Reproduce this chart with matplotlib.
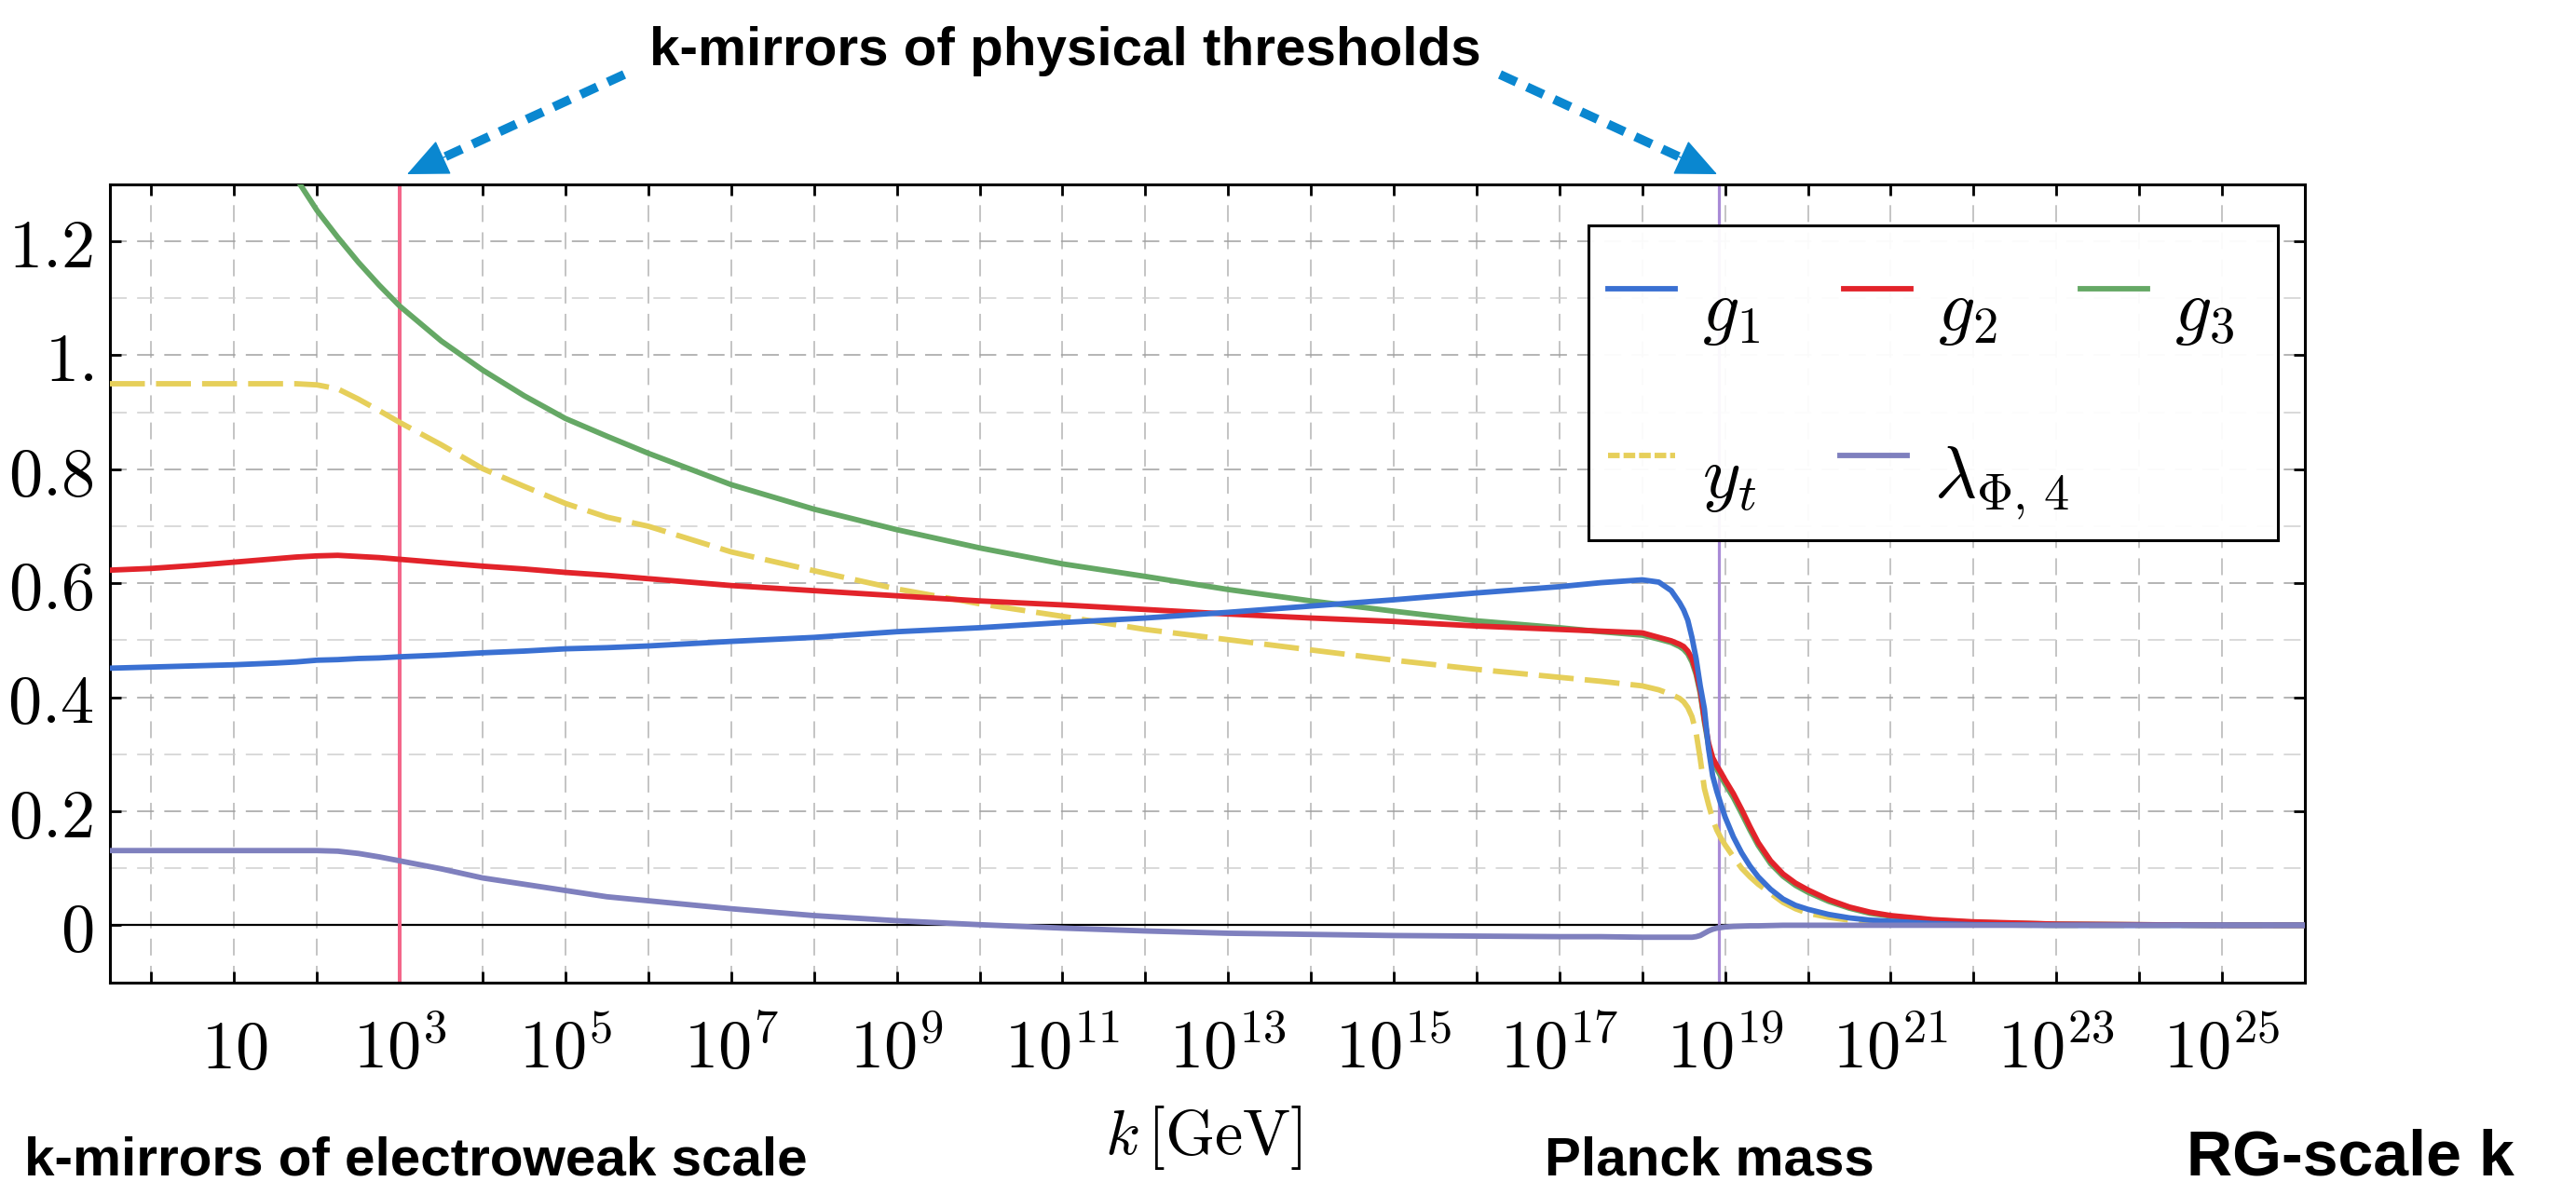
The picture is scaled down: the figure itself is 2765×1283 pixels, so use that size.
import numpy as np
import matplotlib
matplotlib.use("Agg")
import matplotlib.pyplot as plt
from matplotlib.lines import Line2D
from matplotlib.patches import FancyArrowPatch, ArrowStyle, Rectangle
from matplotlib.ticker import FixedLocator, NullFormatter

plt.rcParams['mathtext.fontset'] = 'cm'
plt.rcParams['font.family'] = ['DejaVu Serif']
plt.rcParams['lines.scale_dashes'] = False

# RG scale k, as log10(k / GeV)
log_k = [-0.5, 0, 0.5, 1, 1.5, 1.75, 2, 2.25, 2.5, 2.75, 3, 3.5, 4, 4.5, 5, 5.5,
         6, 7, 8, 9, 10, 11, 12, 13, 14, 15, 16, 17, 17.5, 18, 18.2, 18.35,
         18.45, 18.5, 18.55, 18.6, 18.65, 18.7, 18.75, 18.8, 18.85, 18.9, 18.95,
         19.0, 19.1, 19.2, 19.3, 19.4, 19.55, 19.7, 19.85, 20, 20.25, 20.5,
         20.75, 21, 21.5, 22, 23, 24, 25, 26]

g1 = [0.451, 0.453, 0.455, 0.457, 0.460, 0.462, 0.465, 0.466, 0.468, 0.469, 0.471,
      0.474, 0.478, 0.481, 0.485, 0.487, 0.490, 0.498, 0.505, 0.515, 0.522, 0.531,
      0.539, 0.549, 0.560, 0.571, 0.583, 0.594, 0.601, 0.606, 0.602, 0.587,
      0.566, 0.553, 0.535, 0.505, 0.468, 0.420, 0.380, 0.310, 0.262, 0.235, 0.212,
      0.190, 0.155, 0.127, 0.104, 0.085, 0.063, 0.046, 0.035, 0.028, 0.019, 0.013,
      0.009, 0.007, 0.003, 0.001, 0.0, 0.0, 0.0, 0.0]

g2 = [0.623, 0.626, 0.631, 0.637, 0.643, 0.646, 0.648, 0.649, 0.647, 0.645, 0.642,
      0.636, 0.630, 0.625, 0.619, 0.614, 0.608, 0.596, 0.587, 0.578, 0.569, 0.562,
      0.554, 0.546, 0.539, 0.533, 0.525, 0.519, 0.516, 0.513, 0.505, 0.499,
      0.493, 0.489, 0.481, 0.468, 0.445, 0.412, 0.362, 0.320, 0.294, 0.280, 0.268,
      0.255, 0.231, 0.203, 0.173, 0.145, 0.113, 0.090, 0.074, 0.062, 0.045, 0.032,
      0.023, 0.017, 0.010, 0.006, 0.002, 0.001, 0.0, 0.0]

g3 = [np.nan, np.nan, np.nan, np.nan, 1.37, 1.31, 1.254, 1.207, 1.163, 1.123, 1.086,
      1.025, 0.974, 0.929, 0.889, 0.858, 0.828, 0.773, 0.730, 0.694, 0.662, 0.634,
      0.612, 0.589, 0.569, 0.551, 0.534, 0.522, 0.515, 0.509, 0.502, 0.496,
      0.489, 0.484, 0.476, 0.462, 0.440, 0.407, 0.357, 0.315, 0.289, 0.274, 0.261,
      0.248, 0.224, 0.196, 0.167, 0.140, 0.108, 0.086, 0.070, 0.058, 0.042, 0.030,
      0.021, 0.016, 0.009, 0.005, 0.002, 0.001, 0.0, 0.0]

y_t = [0.950, 0.950, 0.950, 0.950, 0.950, 0.950, 0.948, 0.941, 0.923, 0.903, 0.882,
       0.843, 0.801, 0.770, 0.740, 0.716, 0.700, 0.655, 0.622, 0.590, 0.564, 0.542,
       0.519, 0.501, 0.483, 0.465, 0.449, 0.435, 0.428, 0.420, 0.413, 0.405,
       0.398, 0.392, 0.382, 0.366, 0.338, 0.292, 0.240, 0.212, 0.186, 0.167, 0.153,
       0.141, 0.120, 0.100, 0.085, 0.072, 0.056, 0.040, 0.029, 0.021, 0.014, 0.009,
       0.007, 0.005, 0.002, 0.001, 0.0, 0.0, 0.0, 0.0]

lam4 = [0.131, 0.131, 0.131, 0.131, 0.131, 0.131, 0.131, 0.130, 0.126, 0.120, 0.113,
        0.099, 0.083, 0.072, 0.061, 0.050, 0.043, 0.029, 0.017, 0.008, 0.001, -0.005,
        -0.010, -0.014, -0.016, -0.018, -0.019, -0.020, -0.020, -0.021, -0.021, -0.021,
        -0.021, -0.021, -0.021, -0.021, -0.020, -0.018, -0.014, -0.010, -0.007, -0.005, -0.004,
        -0.003, -0.002, -0.0015, -0.001, -0.001, -0.0005, 0.0, 0.0, 0.0, 0.0, 0.0,
        0.0, 0.0, 0.0, 0.0, 0.0, 0.0, 0.0, 0.0]

# threshold scales (log10 k)
log_k_ew = 3.0
log_k_planck = 18.93

x_ticks_major = list(range(1, 26, 2))
x_ticks_minor = list(range(0, 27, 2))
y_ticks = [0, 0.2, 0.4, 0.6, 0.8, 1.0, 1.2]
y_tick_labels = ["$0$", "$0.2$", "$0.4$", "$0.6$", "$0.8$", "$1.$", "$1.2$"]

C_G1 = '#3a70d2'
C_G2 = '#e2232a'
C_G3 = '#65a865'
C_YT = '#e6cf5a'
C_LAM = '#7f80be'

W, H = 2765, 1283
fig = plt.figure(figsize=(W / 100, H / 100), dpi=100)
ax_top, ax_bot, ax_l, ax_r = 197.8, 1054.6, 118, 2474
ax = fig.add_axes([ax_l / W, 1 - ax_bot / H, (ax_r - ax_l) / W, (ax_bot - ax_top) / H])


def ax_frac(px, py):
    """figure pixel position -> axes fraction"""
    return (px - ax_l) / (ax_r - ax_l), (ax_bot - py) / (ax_bot - ax_top)


k = 10.0 ** np.array(log_k)
lw = 4.2
l_yt, = ax.plot(k, y_t, color=C_YT, lw=lw, dashes=(27, 8.6), zorder=3)
l_g3, = ax.plot(k, g3, color=C_G3, lw=lw, zorder=4)
l_g2, = ax.plot(k, g2, color=C_G2, lw=lw, zorder=5)
l_g1, = ax.plot(k, g1, color=C_G1, lw=lw, zorder=6)
l_lam, = ax.plot(k, lam4, color=C_LAM, lw=lw, zorder=7)

ax.axhline(0, color='black', lw=1.6, zorder=2)
ax.axvline(10.0 ** log_k_ew, color='#f4678a', lw=2.9, zorder=2.5)
ax.axvline(10.0 ** log_k_planck, color='#a98bd6', lw=2.3, zorder=2.5)

ax.set_xscale('log')
ax.set_xlim(10.0 ** -0.5, 10.0 ** 26)
ax.set_ylim(-0.1, 1.3)

ax.set_xticks([10.0 ** e for e in x_ticks_major],
              ["$10$" if e == 1 else "$10^{%d}$" % e for e in x_ticks_major])
ax.xaxis.set_minor_locator(FixedLocator([10.0 ** e for e in x_ticks_minor]))
ax.xaxis.set_minor_formatter(NullFormatter())
ax.set_yticks(y_ticks, y_tick_labels)
ax.yaxis.set_minor_locator(FixedLocator(np.arange(-0.1, 1.31, 0.1)))

ax.tick_params(axis='both', which='both', direction='in', top=True, right=True,
               length=8.5, width=2, labelsize=52)
ax.tick_params(axis='y', which='minor', length=0)
ax.tick_params(axis='x', pad=66.5)
ax.tick_params(axis='y', pad=13)
plt.setp(ax.get_xticklabels(), va='baseline')

grid_dash = (0, (13, 8))
ax.grid(True, axis='x', which='both', color='#b4b4b4', lw=1.1, linestyle=grid_dash, zorder=1)
ax.grid(True, axis='y', which='major', color='#a0a0a0', lw=1.1, linestyle=grid_dash, zorder=1)
ax.grid(True, axis='y', which='minor', color='#cfcfcf', lw=1.1, linestyle=grid_dash, zorder=1)
ax.set_axisbelow(True)

for sp in ax.spines.values():
    sp.set_linewidth(2.2)

ax.set_xlabel(r"$k\,[\mathrm{GeV}]$", fontsize=49)
ax.xaxis.set_label_coords(*ax_frac(1292, 1185))

# legend box shared by the two legend rows
leg_l, leg_r, leg_t, leg_b = 1705, 2445, 241.7, 580
x0f, y0f = ax_frac(leg_l, leg_b)
x1f, y1f = ax_frac(leg_r, leg_t)
frame = Rectangle((x0f, y0f), x1f - x0f, y1f - y0f, transform=ax.transAxes,
                  facecolor=(1, 1, 1, 0.95), edgecolor='black', lw=2.2, zorder=9)
ax.add_artist(frame)

yt_handle = Line2D([], [], color=C_YT, lw=lw, dashes=(9, 3))
leg_kw = dict(loc='upper left', borderaxespad=0, fontsize=56, handlelength=0.93,
              handletextpad=0.37, columnspacing=1.15, borderpad=0.27, frameon=False)
row1 = ax.legend([l_g1, l_g2, l_g3], ["$g_1$", "$g_2$", "$g_3$"], ncol=3,
                 bbox_to_anchor=ax_frac(leg_l, 256), **leg_kw)
row1.set_zorder(10)
ax.add_artist(row1)
row2 = ax.legend([yt_handle, l_lam], ["$y_t$", r"$\lambda_{\Phi,\,4}$"], ncol=2,
                 bbox_to_anchor=ax_frac(leg_l, 435), **leg_kw)
row2.set_zorder(10)
for lg in (row1, row2):
    for t in lg.get_texts():
        t.set_y(-18)

# annotations
bold = dict(family=['Liberation Sans', 'DejaVu Sans'], fontweight='bold', color='black')
fig.text(1143 / W, 1 - 70 / H, "k-mirrors of physical thresholds", ha='center', va='baseline',
         fontsize=42, **bold)
fig.text(26 / W, 1 - 1261 / H, "k-mirrors of electroweak scale", ha='left', va='baseline',
         fontsize=42, **bold)
fig.text(1658 / W, 1 - 1261 / H, "Planck mass", ha='left', va='baseline', fontsize=42, **bold)
fig.text(2347 / W, 1 - 1261 / H, "RG-scale k", ha='left', va='baseline', fontsize=49, **bold)

arrow_blue = '#0a87d0'
head = ArrowStyle('-|>', head_length=29, head_width=13)
for (xa, ya), (xb_, yb_) in [((670, 80), (437, 187)), ((1610, 80), (1843, 187))]:
    d = np.hypot(xb_ - xa, yb_ - ya)
    ux, uy = (xb_ - xa) / d, (yb_ - ya) / d
    xe, ye = xb_ - ux * 32, yb_ - uy * 32
    fig.add_artist(Line2D([xa / W, xe / W], [1 - ya / H, 1 - ye / H], transform=fig.transFigure,
                          color=arrow_blue, lw=7, dashes=(14, 9)))
    xs, ys = xb_ - ux * 45, yb_ - uy * 45
    fig.add_artist(FancyArrowPatch((xs / W, 1 - ys / H), (xb_ / W, 1 - yb_ / H),
                                   transform=fig.transFigure, arrowstyle=head, mutation_scale=1,
                                   lw=1, color=arrow_blue, shrinkA=0, shrinkB=0))

fig.savefig("out.png", dpi=100)
